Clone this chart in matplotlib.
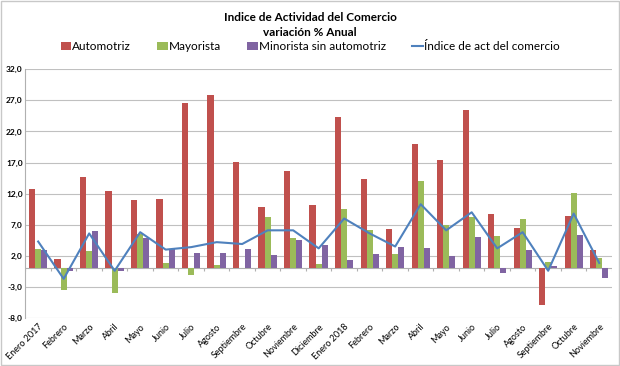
import matplotlib.pyplot as plt
import numpy as np

meses = ["Enero 2017", "Febrero", "Marzo", "Abril", "Mayo", "Junio", "Julio",
         "Agosto", "Septiembre", "Octubre", "Noviembre", "Diciembre",
         "Enero 2018", "Febrero", "Marzo", "Abril", "Mayo", "Junio", "Julio",
         "Agosto", "Septiembre", "Octubre", "Noviembre"]
automotriz = [12.7, 1.5, 14.6, 12.5, 10.9, 11.2, 26.6, 27.9, 17.1, 9.9, 15.6, 10.1,
              24.3, 14.3, 6.3, 19.9, 17.4, 25.5, 8.8, 6.5, -5.9, 8.4, 3.0]
mayorista = [3.1, -3.5, 2.7, -3.9, 5.5, 0.85, -1.1, 0.5, 0.1, 8.3, 4.8, 0.7,
             9.5, 6.2, 2.3, 14.1, 7.0, 8.3, 5.2, 7.9, 1.0, 12.1, 1.7]
minorista = [2.9, -0.5, 6.0, -0.4, 4.8, 3.1, 2.45, 2.4, 3.1, 2.2, 4.5, 3.7,
             1.4, 2.3, 3.4, 3.3, 2.0, 5.0, -0.75, 3.0, 0.3, 5.3, -1.5]
indice = [4.3, -1.7, 5.6, -0.4, 5.8, 3.0, 3.4, 4.2, 3.9, 6.1, 6.1, 3.2,
          8.0, 5.6, 3.5, 10.3, 6.1, 9.0, 3.2, 5.8, -0.4, 8.8, 0.85]
yticks = [-8, -3, 2, 7, 12, 17, 22, 27, 32]

plt.rcParams['font.family'] = ['Lato', 'DejaVu Sans']

fig = plt.figure(figsize=(6.2, 3.66), dpi=100)
fig.patches.append(plt.Rectangle((0.002, 0.003), 0.996, 0.994, transform=fig.transFigure,
                                 fill=False, edgecolor='#c8c8c8', linewidth=1))
ax = fig.add_axes([0.041, 0.131, 0.946, 0.68])

x = np.arange(len(meses))
w = 0.24
b1 = ax.bar(x - w, automotriz, w, color='#C0504D', label='Automotriz', zorder=3)
b2 = ax.bar(x, mayorista, w, color='#9BBB59', label='Mayorista', zorder=3)
b3 = ax.bar(x + w, minorista, w, color='#8064A2', label='Minorista sin automotriz', zorder=3)
l1, = ax.plot(x, indice, color='#4F81BD', linewidth=1.5, label='Índice de act del comercio', zorder=4)

ax.set_xlim(-0.5, len(meses) - 0.5)
ax.set_ylim(-8, 32)
ax.set_yticks(yticks)
ax.set_yticklabels([f"{v:.1f}".replace('.', ',') for v in yticks], fontsize=6, fontweight='bold')
ax.yaxis.grid(True, color='#c0c0c0', linewidth=0.8, zorder=0)
ax.tick_params(axis='y', length=0, pad=2)

# category axis along zero with boundary ticks
ax.axhline(0, color='#b0b0b0', linewidth=0.8, zorder=2)
ax.vlines(np.arange(len(meses) + 1) - 0.5, -0.5, 0, color='#b0b0b0', linewidth=0.8, zorder=2)
ax.set_xticks(x)
ax.set_xticklabels(meses, rotation=45, ha='right', rotation_mode='anchor', fontsize=6.5)
ax.tick_params(axis='x', length=0, pad=3)

for s in ['top', 'right', 'bottom']:
    ax.spines[s].set_visible(False)
ax.spines['left'].set_color('#b0b0b0')

fig.text(0.5, 0.953, 'Indice de Actividad del Comercio', ha='center', va='center',
         fontsize=8.5, fontweight='bold')
fig.text(0.5, 0.91, 'variación % Anual', ha='center', va='center',
         fontsize=8.5, fontweight='bold')
fig.legend([b1, b2, b3, l1],
           ['Automotriz', 'Mayorista', 'Minorista sin automotriz', 'Índice de act del comercio'],
           loc='center', bbox_to_anchor=(0.5, 0.872), ncol=4, frameon=False, fontsize=8.5,
           handlelength=0.9, handleheight=0.6, handletextpad=0.1, columnspacing=2.2,
           borderaxespad=0)

fig.savefig('out.png', dpi=100)
